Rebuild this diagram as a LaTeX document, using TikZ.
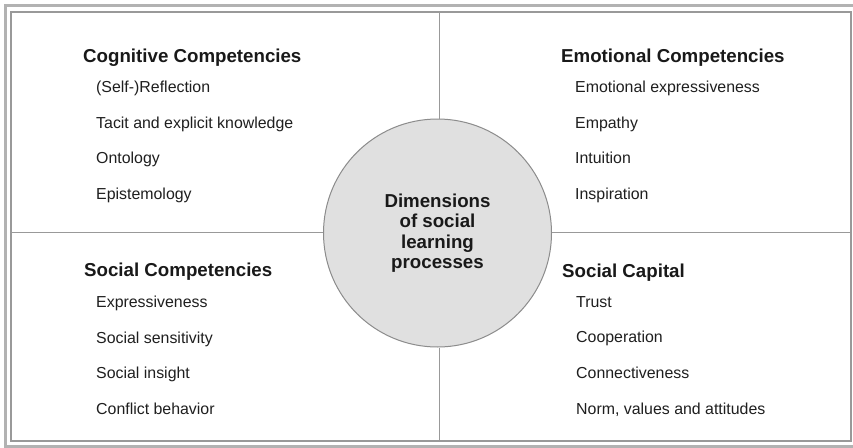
\documentclass[tikz,border=0pt]{standalone}
\usepackage{fontspec}
\setmainfont{Liberation Sans}
\begin{document}
\begin{tikzpicture}[x=1pt,y=-1pt,
  head/.style={anchor=base west,inner sep=0pt,font=\fontsize{18.7}{20}\selectfont\bfseries,text=black!90},
  item/.style={anchor=base west,inner sep=0pt,font=\fontsize{15.9}{18}\selectfont,text=black!88},
  divider/.style={draw=black!40,line width=1pt},
  hub/.style={circle,draw=black!45,line width=1pt,fill=black!12,minimum size=228pt,inner sep=0pt,align=center,font=\fontsize{18.7}{20.5}\selectfont\bfseries,text=black!90}]
\useasboundingbox (0,0) rectangle (853,447);
\fill[white] (0,0) rectangle (853,447);
% frame
\draw[draw=black!30,line width=3pt] (5.5,5.5) rectangle (860,446.5);
\draw[draw=black!40,line width=1.2pt] (11,12) rectangle (851,441);
% edge coordinates
\coordinate (ftop) at (439,12);
\coordinate (fbot) at (439,441);
\coordinate (fleft) at (11,232);
\coordinate (fright) at (851,232);
% hub
\node[hub] (c) at (437.5,233) {Dimensions\\of social\\learning\\processes};
\draw[divider] (ftop) -- (c.north -| ftop);
\draw[divider] (c.south -| fbot) -- (fbot);
\draw[divider] (fleft) -- (c.west |- fleft);
\draw[divider] (c.east |- fright) -- (fright);
% top-left
\node[head] (h1) at (83,62) {Cognitive Competencies};
\node[item] (a1) at (96,92) {(Self-)Reflection};
\node[item] (a2) at (96,128) {Tacit and explicit knowledge};
\node[item] (a3) at (96,163.5) {Ontology};
\node[item] (a4) at (96,199) {Epistemology};
% top-right
\node[head] (h2) at (561,62.5) {Emotional Competencies};
\node[item] (b1) at (575,92.5) {Emotional expressiveness};
\node[item] (b2) at (575,128) {Empathy};
\node[item] (b3) at (575,163.5) {Intuition};
\node[item] (b4) at (575,199) {Inspiration};
% bottom-left
\node[head] (h3) at (84,276.5) {Social Competencies};
\node[item] (d1) at (96,307) {Expressiveness};
\node[item] (d2) at (96,343) {Social sensitivity};
\node[item] (d3) at (96,378.5) {Social insight};
\node[item] (d4) at (96,414) {Conflict behavior};
% bottom-right
\node[head] (h4) at (562,277) {Social Capital};
\node[item] (e1) at (576,307) {Trust};
\node[item] (e2) at (576,342.5) {Cooperation};
\node[item] (e3) at (576,378.5) {Connectiveness};
\node[item] (e4) at (576,414) {Norm, values and attitudes};
\end{tikzpicture}
\end{document}
